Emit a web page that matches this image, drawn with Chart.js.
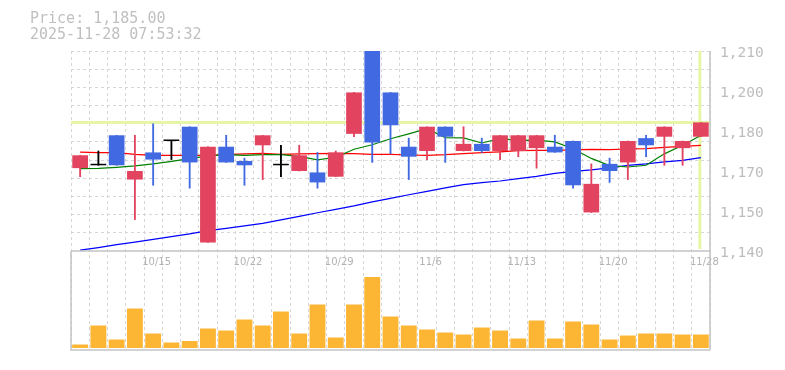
<!DOCTYPE html>
<html>
<head>
<meta charset="utf-8">
<script src="https://cdn.jsdelivr.net/npm/chart.js@4"></script>
<style>
  body { margin: 0; background: #fff; }
  #wrap { position: relative; width: 785px; height: 370px; }
  #head { position: absolute; left: 30px; top: 10px; font: 15px "DejaVu Sans Mono", monospace; line-height: 16px; color: #c0c0c0; white-space: pre; }
  canvas { position: absolute; left: 0; top: 0; }
</style>
</head>
<body>
<div id="wrap">
  <canvas id="chart-area" width="785" height="370"></canvas>
  <div id="head">Price: 1,185.00
2025-11-28 07:53:32</div>
</div>
<script>
// 日付
const dates = ['10/8','10/9','10/10','10/14','10/15','10/16','10/17','10/20','10/21','10/22',
  '10/23','10/24','10/27','10/28','10/29','10/30','10/31','11/4','11/5','11/6',
  '11/7','11/10','11/11','11/12','11/13','11/14','11/17','11/18','11/19','11/20',
  '11/21','11/25','11/26','11/27','11/28'];

// 四本値
const opens = [1169, 1170, 1180.5, 1165, 1174.5, 1178.5, 1183.5, 1143, 1176.5, 1171.5,
  1177, 1170, 1168, 1167.5, 1166, 1181, 1210, 1195.5, 1176.5, 1175,
  1183.5, 1175, 1177.5, 1175, 1175, 1176, 1176.5, 1178.5, 1153.5, 1170.5,
  1171, 1179.5, 1180, 1176, 1180];
const highs = [1173.5, 1175, 1180.5, 1180.5, 1184.5, 1178.5, 1183.5, 1176.5, 1180.5, 1172.5,
  1180.5, 1177, 1177, 1174.5, 1175, 1195.5, 1210, 1195.5, 1179.5, 1183.5,
  1183.5, 1183.5, 1179.5, 1180.5, 1180.5, 1180.5, 1180.5, 1178.5, 1170.5, 1172.5,
  1178.5, 1180.5, 1183.5, 1178.5, 1185];
const lows = [1166, 1170, 1170, 1151, 1163, 1172, 1162, 1143, 1171, 1163,
  1165, 1166, 1168, 1162, 1166, 1180, 1171, 1174, 1165, 1172,
  1171, 1175, 1174.5, 1172, 1173, 1169, 1174.5, 1162, 1153.5, 1164,
  1165, 1173, 1170, 1170, 1180];
const closes = [1173.5, 1170, 1170, 1168, 1172, 1178.5, 1171, 1176.5, 1171, 1170,
  1180.5, 1170, 1173.5, 1164, 1174.5, 1195.5, 1178, 1184, 1173, 1183.5,
  1180, 1177.5, 1175, 1180.5, 1180.5, 1180.5, 1174.5, 1163, 1163.5, 1168,
  1178.5, 1177, 1183.5, 1178.5, 1185];

// 移動平均
const ma5 = [1168.8, 1168.9, 1169.3, 1169.8, 1170.5, 1171.4, 1172.3, 1173.3, 1173.7, 1173.5,
  1173.7, 1173.7, 1173.1, 1171.9, 1172.8, 1175.6, 1177.2, 1179.3, 1181.0, 1182.8,
  1179.7, 1179.6, 1177.8, 1179.3, 1178.7, 1178.8, 1178.2, 1175.8, 1172.4, 1169.9,
  1169.4, 1170.0, 1174.0, 1177.0, 1180.4];
const ma25 = [1174.6, 1174.4, 1174.4, 1173.8, 1173.5, 1173.5, 1173.5, 1173.5, 1173.7, 1174.0,
  1174.2, 1173.8, 1174.0, 1174.1, 1174.2, 1174.1, 1173.8, 1173.8, 1173.6, 1173.5,
  1173.7, 1174.1, 1174.4, 1174.7, 1175.1, 1175.2, 1175.2, 1175.4, 1175.6, 1175.5,
  1175.7, 1175.8, 1176.3, 1176.6, 1177.0];
const ma75 = [1140.3, 1141.2, 1142.2, 1143.1, 1144.1, 1145.0, 1146.0, 1147.1, 1147.9, 1148.8,
  1149.7, 1150.9, 1152.1, 1153.4, 1154.6, 1155.8, 1157.2, 1158.4, 1159.7, 1160.9,
  1162.1, 1163.2, 1163.9, 1164.5, 1165.3, 1166.1, 1167.2, 1167.9, 1168.4, 1169.1,
  1170.0, 1170.5, 1171.2, 1171.7, 1172.7];

// 出来高(千株)
const volumes = [7, 45, 17, 79, 29, 11, 14, 39, 35, 57,
  45, 73, 29, 87, 21, 87, 142, 63, 45, 37,
  31, 27, 41, 35, 19, 55, 19, 53, 47, 17,
  25, 29, 29, 27, 27];

// 目盛り
const yTickValues = [1140, 1154, 1168, 1182, 1196, 1210];
const yTickLabels = ['1,140', '1,150', '1,170', '1,180', '1,200', '1,210'];
const lastPrice = 1185;

const priceTop = 1210;
const priceBottom = 1140;
const priceMin = priceBottom - 97 * (priceTop - priceBottom) / 200; // 出来高エリア分
const volMax = 594;

const upColor = '#e2445f';
const downColor = '#4169e1';

function candleColor(i) {
  if (closes[i] > opens[i]) return upColor;
  if (closes[i] < opens[i]) return downColor;
  return '#000000';
}

const panelPlugin = {
  id: 'panels',
  beforeDatasetsDraw(chart) {
    const { ctx, chartArea: a, scales: { x, y } } = chart;
    const topY = y.getPixelForValue(priceTop);
    const sepY = y.getPixelForValue(priceBottom);
    ctx.save();
    ctx.fillStyle = '#e6f6a6';
    const py = y.getPixelForValue(lastPrice);
    ctx.fillRect(a.left, py - 1.5, a.right - a.left, 3);
    const cx = x.getPixelForValue(dates.length - 1) - 1;
    ctx.fillRect(cx - 1.5, topY, 3, sepY - topY - 2);
    ctx.restore();
  },
  afterDatasetsDraw(chart) {
    const { ctx, chartArea: a, scales: { y } } = chart;
    const sepY = Math.round(y.getPixelForValue(priceBottom));
    ctx.save();
    ctx.strokeStyle = '#c4c4c4';
    ctx.lineWidth = 1.5;
    ctx.beginPath();
    ctx.moveTo(a.left, sepY);
    ctx.lineTo(a.right, sepY);
    ctx.moveTo(a.right, a.top);
    ctx.lineTo(a.right, a.bottom + 2);
    ctx.moveTo(a.left, sepY);
    ctx.lineTo(a.left, a.bottom + 2);
    ctx.lineTo(a.right, a.bottom + 2);
    ctx.stroke();
    ctx.restore();
  }
};

const gridColor = '#d6d6d6';

chart = new Chart(document.getElementById('chart-area'), {
  type: 'bar',
  data: {
    labels: dates,
    datasets: [
      { // 実体
        type: 'bar',
        data: opens.map((o, i) => [o, closes[i]]),
        backgroundColor: ctx => candleColor(ctx.dataIndex),
        barPercentage: 0.86,
        categoryPercentage: 1,
        grouped: false,
        minBarLength: 1.5,
        yAxisID: 'y',
        order: 0
      },
      { // ヒゲ
        type: 'bar',
        data: lows.map((l, i) => [l, highs[i]]),
        backgroundColor: ctx => candleColor(ctx.dataIndex),
        barThickness: 1.2,
        grouped: false,
        yAxisID: 'y',
        order: 1
      },
      { type: 'line', data: ma5, borderColor: '#008000', borderWidth: 1.2, pointRadius: 0, yAxisID: 'y', order: 2 },
      { type: 'line', data: ma25, borderColor: '#ff0000', borderWidth: 1.2, pointRadius: 0, yAxisID: 'y', order: 2 },
      { type: 'line', data: ma75, borderColor: '#0000ff', borderWidth: 1.2, pointRadius: 0, yAxisID: 'y', order: 2 },
      { // 出来高
        type: 'bar',
        data: volumes,
        backgroundColor: '#fcb634',
        barPercentage: 0.87,
        categoryPercentage: 1,
        grouped: false,
        yAxisID: 'yVol',
        order: 3
      }
    ]
  },
  plugins: [panelPlugin],
  options: {
    responsive: false,
    animation: false,
    events: [],
    layout: { padding: { left: 71, top: 51, right: 0, bottom: 22 } },
    plugins: {
      legend: { display: false },
      tooltip: { enabled: false }
    },
    scales: {
      x: {
        offset: true,
        position: { y: priceBottom },
        grid: { offset: true, color: gridColor, drawTicks: false },
        border: { display: false, dash: [3, 3] },
        ticks: {
          autoSkip: false,
          maxRotation: 0,
          padding: 5,
          labelOffset: 3.5,
          color: '#b2b2b2',
          font: { family: 'DejaVu Sans', size: 10 },
          callback: (v, i) => (i % 5 === 4 ? dates[i] : '')
        },
        afterFit(s) { s.height = 0; }
      },
      yGrid: {
        position: 'left',
        min: priceMin,
        max: priceTop,
        grid: { color: gridColor, drawTicks: false },
        border: { display: false, dash: [3, 3] },
        ticks: { display: false },
        afterBuildTicks(s) {
          const t = [];
          for (let k = 1; k <= 11; k++) t.push({ value: priceBottom + k * (priceTop - priceBottom) / 11 });
          s.ticks = t;
        },
        afterFit(s) { s.width = 0; }
      },
      y: {
        position: 'right',
        min: priceMin,
        max: priceTop,
        grid: { display: false, drawTicks: false },
        border: { display: false },
        afterBuildTicks(s) { s.ticks = yTickValues.map(v => ({ value: v })); },
        ticks: {
          autoSkip: false,
          padding: 10,
          labelOffset: 2.5,
          color: '#bdbdbd',
          font: { family: 'DejaVu Sans Mono', size: 14.5 },
          callback: (v, i) => yTickLabels[i]
        },
        afterFit(s) { s.width = 75; }
      },
      yVol: {
        display: false,
        min: 0,
        max: volMax
      }
    }
  }
});
</script>
</body>
</html>
